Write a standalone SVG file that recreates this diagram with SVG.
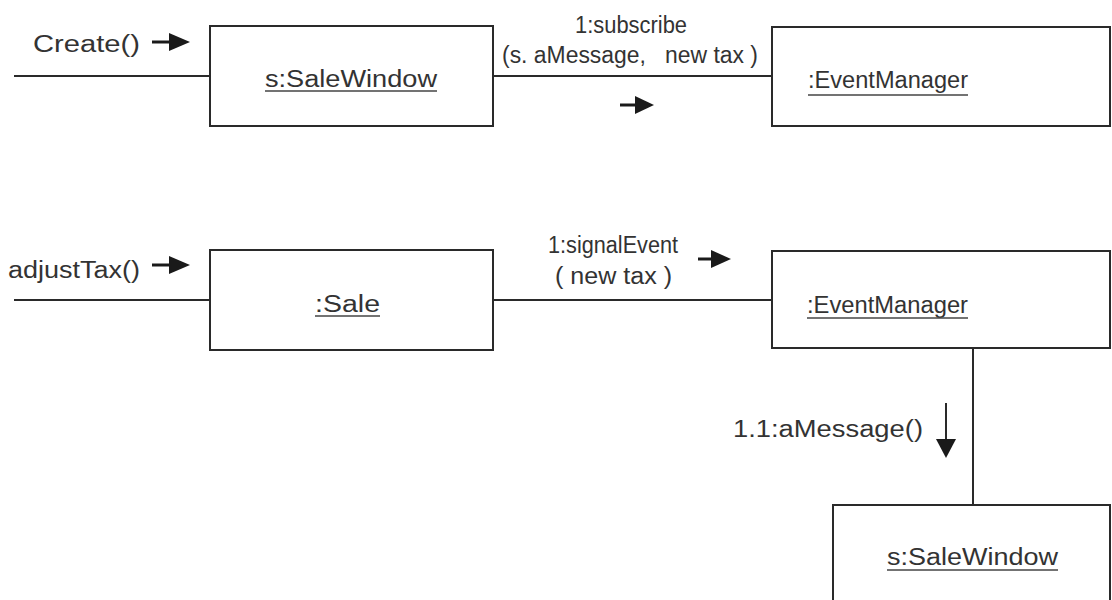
<svg xmlns="http://www.w3.org/2000/svg" width="1112" height="600" viewBox="0 0 1112 600">
  <style>
    .box { fill: #ffffff; stroke: #2a2a2a; stroke-width: 2; }
    .link { stroke: #2a2a2a; stroke-width: 2; fill: none; }
    .label { font-family: "Liberation Sans", Arial, sans-serif; font-size: 23px; fill: #333333; white-space: pre; }
    .obj { font-family: "Liberation Sans", Arial, sans-serif; font-size: 23px; fill: #333333; }
    .uline { stroke: #444444; stroke-width: 1.6; }
    .msg { stroke: #1a1a1a; stroke-width: 3; fill: none; }
    .head { fill: #1a1a1a; }
  </style>
  <rect width="1112" height="600" fill="#ffffff"/>

  <!-- links between objects -->
  <g id="connectors">
    <line class="link" x1="14" y1="76" x2="210" y2="76"/>
    <line class="link" x1="493" y1="76" x2="772" y2="76"/>
    <line class="link" x1="14" y1="300" x2="210" y2="300"/>
    <line class="link" x1="493" y1="300" x2="772" y2="300"/>
    <line class="link" x1="973" y1="349" x2="973" y2="505"/>
  </g>

  <!-- message labels with direction arrows -->
  <g id="messages">
    <text class="label" x="33" y="52" textLength="107" lengthAdjust="spacingAndGlyphs">Create()</text>
    <line class="msg" x1="152" y1="42" x2="172" y2="42"/>
    <polygon class="head" points="169,33 190,42 169,51"/>

    <text class="label" x="575" y="33" textLength="112" lengthAdjust="spacingAndGlyphs">1:subscribe</text>
    <text class="label" x="502" y="63" textLength="256" lengthAdjust="spacingAndGlyphs">(s. aMessage,   new tax )</text>
    <line class="msg" x1="620" y1="105" x2="638" y2="105"/>
    <polygon class="head" points="635,96 654,105 635,114"/>

    <text class="label" x="8" y="278" textLength="132" lengthAdjust="spacingAndGlyphs">adjustTax()</text>
    <line class="msg" x1="152" y1="265" x2="172" y2="265"/>
    <polygon class="head" points="169,256 190,265 169,274"/>

    <text class="label" x="548" y="253" textLength="130" lengthAdjust="spacingAndGlyphs">1:signalEvent</text>
    <text class="label" x="555" y="284" textLength="117" lengthAdjust="spacingAndGlyphs">( new tax )</text>
    <line class="msg" x1="698" y1="259" x2="714" y2="259"/>
    <polygon class="head" points="711,250 731,259 711,268"/>

    <text class="label" x="733" y="437" textLength="190" lengthAdjust="spacingAndGlyphs">1.1:aMessage()</text>
    <line class="link" x1="946" y1="403" x2="946" y2="442"/>
    <polygon class="head" points="936,439 956,439 946,458"/>
  </g>

  <g id="saleWindowTop">
    <rect class="box" x="210" y="26" width="283" height="100"/>
    <text class="obj" x="265" y="87" textLength="172" lengthAdjust="spacingAndGlyphs">s:SaleWindow</text>
    <line class="uline" x1="265" y1="91" x2="437" y2="91"/>
  </g>

  <g id="eventManagerTop">
    <rect class="box" x="772" y="27" width="338" height="99"/>
    <text class="obj" x="808" y="88" textLength="160" lengthAdjust="spacingAndGlyphs">:EventManager</text>
    <line class="uline" x1="808" y1="95" x2="968" y2="95"/>
  </g>

  <g id="sale">
    <rect class="box" x="210" y="250" width="283" height="100"/>
    <text class="obj" x="315" y="312" textLength="65" lengthAdjust="spacingAndGlyphs">:Sale</text>
    <line class="uline" x1="315" y1="316" x2="380" y2="316"/>
  </g>

  <g id="eventManagerBottom">
    <rect class="box" x="772" y="251" width="338" height="97"/>
    <text class="obj" x="807" y="313" textLength="161" lengthAdjust="spacingAndGlyphs">:EventManager</text>
    <line class="uline" x1="807" y1="318" x2="968" y2="318"/>
  </g>

  <g id="saleWindowBottom">
    <rect class="box" x="833" y="505" width="277" height="110"/>
    <text class="obj" x="887" y="565" textLength="171" lengthAdjust="spacingAndGlyphs">s:SaleWindow</text>
    <line class="uline" x1="887" y1="570" x2="1058" y2="570"/>
  </g>
</svg>
